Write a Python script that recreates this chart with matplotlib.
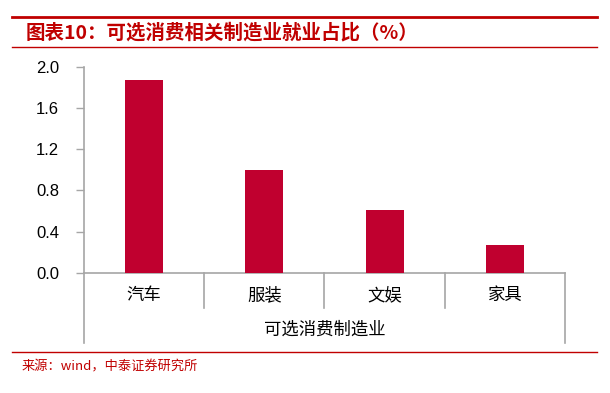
import matplotlib
matplotlib.use("Agg")
import matplotlib.pyplot as plt
import matplotlib.transforms as mtransforms
from matplotlib.lines import Line2D

plt.rcParams['font.family'] = ['Noto Sans CJK SC', 'DejaVu Sans']

# ---------------- data ----------------
categories = ["汽车", "服装", "文娱", "家具"]
values = [1.87, 1.00, 0.61, 0.27]
group_label = "可选消费制造业"
y_ticks = [0.0, 0.4, 0.8, 1.2, 1.6, 2.0]

title = "图表10：可选消费相关制造业就业占比（%）"
source = "来源：wind，中泰证券研究所"

bar_color = "#C0002F"
red = "#C00000"
axis_gray = "#A6A6A6"

# ---------------- figure ----------------
fig = plt.figure(figsize=(6.10, 3.93), dpi=100)
ax = fig.add_axes([0.1377, 0.3061, 0.7885, 0.5234])

x = list(range(len(categories)))
ax.bar(x, values, width=0.315, color=bar_color, zorder=3)

ax.set_xlim(-0.5, len(categories) - 0.5)
ax.set_ylim(0, 2.0)
ax.set_yticks(y_ticks)
ax.set_yticklabels([f"{v:.1f}" for v in y_ticks], fontsize=12,
                   family=["Liberation Sans", "DejaVu Sans"])
ax.tick_params(axis="y", direction="out", length=6, color=axis_gray,
               width=1, pad=12)
ax.set_xticks([])

for s in ["top", "right"]:
    ax.spines[s].set_visible(False)
for s in ["left", "bottom"]:
    ax.spines[s].set_color(axis_gray)
    ax.spines[s].set_linewidth(1.2)

# category labels + separators below the axis
trans = mtransforms.blended_transform_factory(ax.transData, ax.transAxes)
for i, c in enumerate(categories):
    ax.text(i, -0.109, c, transform=trans, ha="center", va="center",
            fontsize=12.5)
for b in [0.5, 1.5, 2.5]:
    ax.add_line(Line2D([b, b], [0, -0.172], transform=trans,
                       color=axis_gray, lw=1.2, clip_on=False))
for b in [-0.5, len(categories) - 0.5]:
    ax.add_line(Line2D([b, b], [0, -0.342], transform=trans,
                       color=axis_gray, lw=1.2, clip_on=False))
ax.text((len(categories) - 1) / 2, -0.277, group_label, transform=trans,
        ha="center", va="center", fontsize=12.5)

# ---------------- header / footer ----------------
def hline(y_px, x0_px, x1_px, lw):
    fig.add_artist(Line2D([x0_px / 610, x1_px / 610],
                          [1 - y_px / 393, 1 - y_px / 393],
                          color=red, lw=lw))

hline(17, 12, 597, 2.0)
hline(47, 12, 597, 1.0)
hline(352, 12, 597, 1.0)

fig.text(26 / 610, 1 - 33 / 393, title, color=red, fontsize=14,
         fontweight="bold", style="italic", va="center", ha="left")
fig.text(22 / 610, 1 - 367 / 393, source, color=red, fontsize=9.5,
         va="center", ha="left")

fig.savefig("out.png", dpi=100)
